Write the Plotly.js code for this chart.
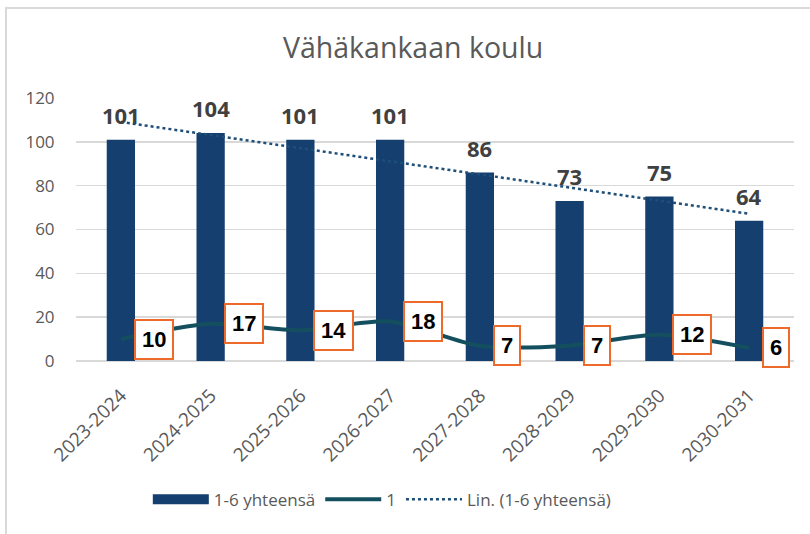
<!DOCTYPE html>
<html>
<head>
<meta charset="utf-8">
<script src="https://cdn.plot.ly/plotly-3.0.1.min.js"></script>
<style>
  html, body { margin: 0; padding: 0; background: #fff; overflow: hidden; }
  #chart { width: 810px; height: 534px; }
  #frame { position: absolute; left: 5px; top: 7px; width: 830px; height: 560px;
           border-top: 2px solid #d9d9d9; border-left: 2px solid #d9d9d9;
           pointer-events: none; z-index: 10; }
</style>
</head>
<body>
<div id="chart"></div>
<div id="frame"></div>
<script>
// ---- data ----
const categories = ['2023-2024', '2024-2025', '2025-2026', '2026-2027', '2027-2028', '2028-2029', '2029-2030', '2030-2031'];
const totalValues = [101, 104, 101, 101, 86, 73, 75, 64];   // 1-6 yhteensä
const gradeOneValues = [10, 17, 14, 18, 7, 7, 12, 6];       // 1
const seriesNames = ['1-6 yhteensä', '1', 'Lin. (1-6 yhteensä)'];
const chartTitle = 'Vähäkankaan koulu';
const yTicks = [0, 20, 40, 60, 80, 100, 120];

// linear trendline (least squares) over the bar series, like Excel's "Lin."
const n = totalValues.length;
const xs = totalValues.map((_, i) => i + 1);
const mx = xs.reduce((a, b) => a + b, 0) / n;
const my = totalValues.reduce((a, b) => a + b, 0) / n;
let sxy = 0, sxx = 0;
for (let i = 0; i < n; i++) { sxy += (xs[i] - mx) * (totalValues[i] - my); sxx += (xs[i] - mx) ** 2; }
const slope = sxy / sxx, intercept = my - slope * mx;
const trendValues = xs.map(x => intercept + slope * x);

const barColor = '#143F6E';
const lineColor = '#134F5F';
const trendColor = '#1F4E79';
const gray = '#595959';

const traces = [
  { type: 'bar', x: categories, y: totalValues, name: seriesNames[0], legendgroup: 'tot',
    showlegend: false, marker: { color: barColor }, hoverinfo: 'skip' },
  // legend-only entry for the bars (wide swatch like Excel); its single point has no value
  { type: 'scatter', mode: 'lines', x: [categories[0]], y: [null], name: seriesNames[0], legendgroup: 'tot',
    line: { color: barColor, width: 11 }, hoverinfo: 'skip' },
  { type: 'scatter', mode: 'lines', x: categories, y: gradeOneValues, name: seriesNames[1],
    line: { color: lineColor, width: 4, shape: 'spline', smoothing: 0.8 }, hoverinfo: 'skip' },
  { type: 'scatter', mode: 'lines', x: categories, y: trendValues, name: seriesNames[2],
    line: { color: trendColor, width: 2.5, dash: 'dot' }, hoverinfo: 'skip' }
];

const annotations = [];
categories.forEach((c, i) => {
  annotations.push({ x: c, y: totalValues[i], xref: 'x', yref: 'y', text: String(totalValues[i]),
    showarrow: false, yanchor: 'middle', yshift: 25,
    font: { family: 'Open Sans, sans-serif', size: 22, color: '#404040', weight: 'bold' } });
  annotations.push({ x: c, y: gradeOneValues[i], xref: 'x', yref: 'y', text: '<b>' + gradeOneValues[i] + '</b>',
    showarrow: false, xanchor: 'left', yanchor: 'middle', xshift: 13,
    bgcolor: '#ffffff', bordercolor: '#EE6A2A', borderwidth: 2, borderpad: 6,
    font: { family: 'Liberation Sans, Arial, sans-serif', size: 22, color: '#000000' } });
});

const layout = {
  width: 810, height: 534,
  margin: { l: 76, r: 16, t: 98, b: 173 },
  paper_bgcolor: '#ffffff', plot_bgcolor: '#ffffff',
  title: { text: chartTitle, x: 0.51, xanchor: 'center', xref: 'container',
           y: 0.91, yanchor: 'middle', yref: 'container',
           font: { family: 'Open Sans, sans-serif', size: 28.5, color: gray } },
  bargap: 0.685,
  showlegend: true,
  legend: { orientation: 'h', x: 0.472, xanchor: 'center', xref: 'container',
            y: 0.064, yanchor: 'middle', yref: 'container',
            font: { family: 'Open Sans, sans-serif', size: 17, color: gray },
            traceorder: 'normal', itemwidth: 56 },
  xaxis: { type: 'category', tickangle: -45, showgrid: false, showline: false,
           ticks: 'outside', ticklen: 15, tickcolor: 'rgba(0,0,0,0)',
           tickfont: { family: 'Open Sans, sans-serif', size: 19, color: gray }, fixedrange: true },
  yaxis: { range: [0, 120], tickvals: yTicks, ticktext: yTicks.map(String),
           showgrid: true, gridcolor: '#D9D9D9', gridwidth: 1.5,
           zeroline: true, zerolinecolor: '#D9D9D9', zerolinewidth: 1.5,
           showline: false, ticks: 'outside', ticklen: 17, tickcolor: 'rgba(0,0,0,0)',
           tickfont: { family: 'Open Sans, sans-serif', size: 17, color: gray }, fixedrange: true },
  annotations: annotations
};

Plotly.newPlot('chart', traces, layout, { staticPlot: true, displayModeBar: false });
</script>
</body>
</html>
